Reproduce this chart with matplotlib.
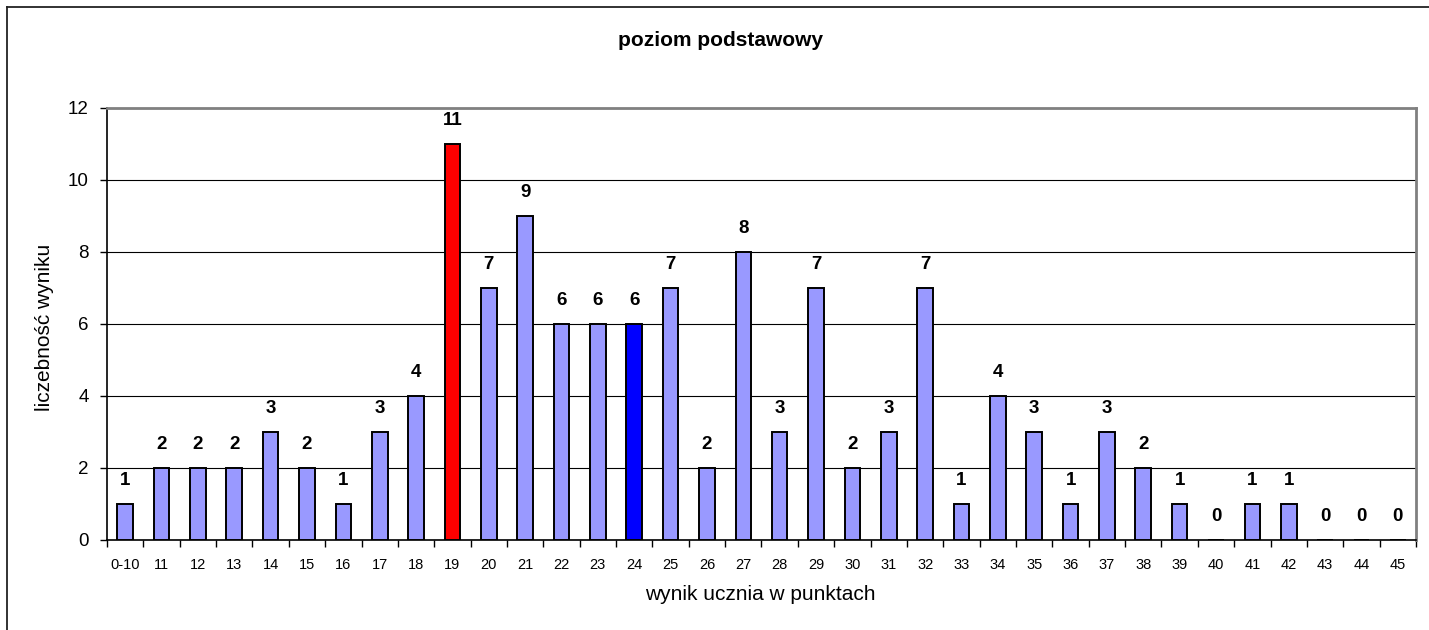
import numpy as np
import matplotlib.pyplot as plt
from matplotlib.lines import Line2D

plt.rcParams['font.family'] = ['Liberation Sans', 'DejaVu Sans']

# dane
kategorie = ['0-10'] + [str(k) for k in range(11, 46)]
liczebnosc = [1, 2, 2, 2, 3, 2, 1, 3, 4, 11, 7, 9, 6, 6, 6, 7, 2, 8, 3, 7,
              2, 3, 7, 1, 4, 3, 1, 3, 2, 1, 0, 1, 1, 0, 0, 0]
kolory = {'19': '#ff0000', '24': '#0000ff'}
y_ticks = [0, 2, 4, 6, 8, 10, 12]

W, H = 1429, 630
fig = plt.figure(figsize=(W / 100, H / 100), dpi=100)

# ramka wykresu
fx = 7 / W
fy = 1 - 7 / H
fig.add_artist(Line2D([fx, fx], [0, fy], color='#222222', lw=1.3, transform=fig.transFigure))
fig.add_artist(Line2D([fx, 1], [fy, fy], color='#222222', lw=1.3, transform=fig.transFigure))

ax = fig.add_axes([107 / W, 90 / H, (1416 - 107) / W, 432 / H])

x = np.arange(len(kategorie))
col = [kolory.get(k, '#9999ff') for k in kategorie]
ax.bar(x, liczebnosc, width=0.43, color=col, edgecolor='black', linewidth=1.4, zorder=3)

for i, v in enumerate(liczebnosc):
    ax.annotate(str(v), (i, v), xytext=(0, 11), textcoords='offset points',
                ha='center', va='bottom', fontsize=13.5, fontweight='bold')

ax.set_xlim(-0.5, len(kategorie) - 0.5)
ax.set_ylim(0, 12)
ax.set_yticks(y_ticks)
ax.tick_params(axis='y', labelsize=13.5, length=5, width=1, direction='out', pad=8)
ax.yaxis.grid(True, color='black', lw=0.8, zorder=0)

ax.set_xticks(np.arange(-0.5, len(kategorie), 1))
ax.set_xticklabels([])
ax.tick_params(axis='x', which='major', length=5, width=1, direction='out')
ax.set_xticks(x, minor=True)
ax.set_xticklabels(kategorie, minor=True)
ax.tick_params(axis='x', which='minor', length=0, labelsize=10.5, pad=13)

for s in ['left', 'bottom']:
    ax.spines[s].set_color('black')
    ax.spines[s].set_linewidth(1.2)
for s in ['top', 'right']:
    ax.spines[s].set_color('#808080')
    ax.spines[s].set_linewidth(2)

fig.text(760 / W, 1 - 595 / H, 'wynik ucznia w punktach', ha='center', va='center', fontsize=15)
fig.text(45 / W, 1 - 327 / H, 'liczebność wyniku', ha='center', va='center',
         rotation=90, fontsize=15)
fig.text(720 / W, 1 - 40 / H, 'poziom podstawowy', ha='center', va='center',
         fontsize=15, fontweight='bold')

fig.savefig('out.png', dpi=100)
